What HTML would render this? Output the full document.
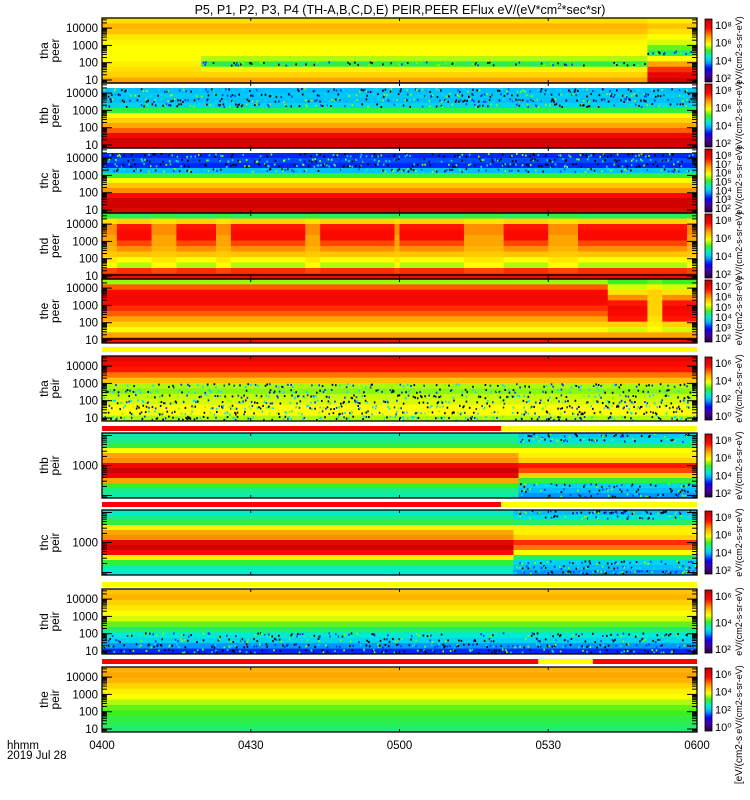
<!DOCTYPE html>
<html><head><meta charset="utf-8"><title>THEMIS ESA spectrograms</title>
<style>
html,body{margin:0;padding:0;background:#fff;}
svg{display:block;font-family:"Liberation Sans","DejaVu Sans",sans-serif;}
</style></head>
<body>
<svg id="chart" width="750" height="800" viewBox="0 0 750 800" xmlns="http://www.w3.org/2000/svg">
<text x="400" y="14" font-size="12.5" text-anchor="middle" fill="#000">P5, P1, P2, P3, P4 (TH-A,B,C,D,E) PEIR,PEER EFlux eV/(eV*cm<tspan font-size="8" dy="-5">2</tspan><tspan dy="5">*sec*sr)</tspan></text>
<g id="cells"></g>
<g id="bars"></g>
<g id="axes"></g>
<g id="cbars"></g>
<text x="7" y="749" font-size="11.5">hhmm</text>
<text x="7" y="759" font-size="11.5">2019 Jul 28</text>
</svg>
<script>
// ---- data ----
const timeTicks = [0, 30, 60, 90, 120];
const timeTickLabels = ["0400", "0430", "0500", "0530", "0600"];
const panelNames = ["tha peer","thb peer","thc peer","thd peer","the peer","tha peir","thb peir","thc peir","thd peir","the peir"];
const panelTops = [18, 83, 148, 213, 279, 356, 433, 510, 589, 667];
const panelBottoms = [83, 148, 213, 279, 343, 421, 498, 575, 654, 732];
const energyTicks = [10, 100, 1000, 10000];

// profiles: normalized log flux per energy row (top=high energy → bottom=low energy); -1 = no data
const thaPeerProfiles = [
  [0.64,0.7,0.68,0.63,0.61,0.6,0.6,0.6,0.62,0.64,0.66,0.72],
  [0.64,0.7,0.68,0.63,0.61,0.6,0.6,0.56,0.48,0.62,0.66,0.72],
  [0.62,0.68,0.64,0.6,0.58,0.52,0.46,0.6,0.72,0.82,0.9,0.95]
];
const thaPeerRegimes = [[0,20,0],[20,110,1],[110,120,2]];
const thbPeerProfiles = [
  [-1,0.32,0.34,0.32,0.36,0.48,0.6,0.66,0.72,0.78,0.88,0.95,0.94]
];
const thbPeerRegimes = [[0,120,0]];
const thcPeerProfiles = [
  [-1,0.24,0.26,0.24,0.32,0.48,0.6,0.68,0.74,0.86,0.95,0.95,0.92]
];
const thcPeerRegimes = [[0,120,0]];
const thdPeerProfiles = [
  [0.46,0.66,0.84,0.86,0.86,0.8,0.74,0.68,0.6,0.56,0.82,0.86],
  [0.48,0.64,0.74,0.74,0.72,0.72,0.7,0.67,0.63,0.6,0.8,0.86]
];
const thdPeerRegimes = [[0,3,1],[3,10,0],[10,15,1],[15,23,0],[23,26,1],[26,41,0],[41,44,1],[44,59,0],[59,60,1],[60,73,0],[73,81,1],[81,90,0],[90,96,1],[96,118,0],[118,120,1]];
const thePeerProfiles = [
  [0.55,0.78,0.86,0.88,0.86,0.82,0.78,0.72,0.66,0.6,0.72,0.86],
  [0.5,0.58,0.64,0.74,0.84,0.88,0.86,0.84,0.66,0.58,0.72,0.86],
  [0.52,0.62,0.66,0.66,0.66,0.66,0.66,0.64,0.62,0.6,0.72,0.86]
];
const thePeerRegimes = [[0,102,0],[102,110,1],[110,113,2],[113,120,1]];
const thaPeirProfiles = [
  [0.9,0.86,0.84,0.76,0.68,0.56,0.54,0.57,0.58,0.6,0.6,0.56]
];
const thaPeirRegimes = [[0,120,0]];
const thbPeirProfiles = [
  [0.42,0.44,0.48,0.6,0.72,0.74,0.88,0.96,0.9,0.72,0.5,0.44,0.42],
  [0.34,0.38,0.46,0.6,0.62,0.66,0.84,0.8,0.66,0.48,0.36,0.32,0.3]
];
const thbPeirRegimes = [[0,84,0],[84,120,1]];
const thcPeirProfiles = [
  [0.4,0.44,0.48,0.62,0.72,0.74,0.9,0.96,0.86,0.62,0.48,0.42,0.4],
  [0.32,0.38,0.46,0.62,0.62,0.66,0.82,0.76,0.6,0.46,0.36,0.32,0.3]
];
const thcPeirRegimes = [[0,83,0],[83,120,1]];
const thdPeirProfiles = [
  [0.68,0.7,0.66,0.63,0.6,0.58,0.52,0.46,0.4,0.36,0.3,0.24]
];
const thdPeirRegimes = [[0,120,0]];
const thePeirProfiles = [
  [0.7,0.72,0.7,0.66,0.62,0.6,0.56,0.52,0.5,0.48,0.47,0.45]
];
const thePeirRegimes = [[0,120,0]];
const speckleLevel = [0.5,0.4,0.36,0,0,0.6,0.39,0.39,0.42,0];

// status bar segments [startMin, endMin, color]
const barY = [347, 426, 502, 582, 659];
const barSegs = [
  [[0,120,"#ffff00"]],
  [[0,80.5,"#ff0000"],[80.5,120,"#ffff00"]],
  [[0,80.5,"#ff0000"],[80.5,120,"#ffff00"]],
  [[0,120,"#ffff00"]],
  [[0,88,"#ff0000"],[88,99,"#ffff00"],[99,120,"#ff0000"]]
];
const cbarLabels = [
  ["10⁸","10⁶","10⁴","10²"],["10⁸","10⁶","10⁴","10²"],["10⁸","10⁷","10⁶","10⁵","10⁴","10³","10²"],
  ["10⁸","10⁶","10⁴","10²"],["10⁷","10⁶","10⁵","10⁴","10³","10²"],["10⁶","10⁴","10²","10⁰"],
  ["10⁸","10⁶","10⁴","10²"],["10⁸","10⁶","10⁴","10²"],["10⁶","10⁴","10²"],["10⁶","10⁴","10²","10⁰"]
];

const allProfiles = [thaPeerProfiles,thbPeerProfiles,thcPeerProfiles,thdPeerProfiles,thePeerProfiles,thaPeirProfiles,thbPeirProfiles,thcPeirProfiles,thdPeirProfiles,thePeirProfiles];
const allRegimes = [thaPeerRegimes,thbPeerRegimes,thcPeerRegimes,thdPeerRegimes,thePeerRegimes,thaPeirRegimes,thbPeirRegimes,thcPeirRegimes,thdPeirRegimes,thePeirRegimes];

// ---- rendering ----
const NS = "http://www.w3.org/2000/svg";
const X0 = 102, X1 = 697;
function xScale(t){ return X0 + (t/120)*(X1-X0); }
function mk(tag, attrs, parent){ const e=document.createElementNS(NS,tag); for(const k in attrs) e.setAttribute(k,attrs[k]); parent.appendChild(e); return e; }
const stops=[[0,[40,0,60]],[0.12,[70,0,170]],[0.22,[0,0,255]],[0.32,[0,190,255]],[0.4,[0,235,210]],[0.5,[60,240,30]],[0.6,[255,255,0]],[0.72,[255,165,0]],[0.85,[255,10,0]],[1,[185,0,0]]];
function cmap(v){
  v=Math.max(0,Math.min(1,v));
  for(let i=1;i<stops.length;i++){ if(v<=stops[i][0]){ const a=stops[i-1],b=stops[i]; const f=(v-a[0])/(b[0]-a[0]);
    const c=a[1].map((q,j)=>Math.round(q+(b[1][j]-q)*f)); return `rgb(${c[0]},${c[1]},${c[2]})`; } }
  return "rgb(185,0,0)";
}
function hash(a,b,c){ let h=(a*374761393+b*668265263+c*2147483647)|0; h=(h^(h>>>13))*1274126177|0; return ((h^(h>>>16))>>>0)/4294967296; }

const cells=document.getElementById('cells');
for(let p=0;p<10;p++){
  const top=panelTops[p], bot=panelBottoms[p];
  const g=mk('g',{},cells);
  
  
  for(const reg of allRegimes[p]){
    const prof=allProfiles[p][reg[2]];
    const nr=prof.length, rh=(bot-top)/nr;
    const x0=xScale(reg[0]), x1=xScale(reg[1]);
    for(let r=0;r<nr;r++){
      const v=prof[r];
      const rect=mk('rect',{x:x0.toFixed(2),y:(top+r*rh).toFixed(2),width:(x1-x0+0.3).toFixed(2),height:(rh+0.3).toFixed(2),fill:v<0?"#fff":cmap(v)},g);
      
      
    }
    const sl=speckleLevel[p];
    if(sl>0){
      for(let r=0;r<nr;r++){
        const v=prof[r]; if(v<0||v>sl) continue;
        for(let t=Math.floor(reg[0]*2);t<reg[1]*2;t++){
          for(let k=0;k<3;k++){
            const h=hash(p,t*7+k,r);
            if(h<0.2){
              const col = h<0.07?"#000":(h<0.11?"#0030ff":(h<0.16?"#00e0ff":"#80ff00"));
              mk('rect',{x:(xScale(t/2)+k*0.8).toFixed(1),y:(top+r*rh+hash(r,t,k)*(rh-2)).toFixed(1),width:1.6,height:2,fill:col},g);
            }
          }
        }
      }
    }
  }
}
// contour lines at bottom of thd/the peer
for(const p of [3,4]){
  const yb=panelBottoms[p]-4;
  const ln=mk('path',{d:`M${X0} ${yb} L${X1} ${yb}`,stroke:"#000","stroke-width":1.5,fill:"none"},cells);
  
  
}

// status bars
const bars=document.getElementById('bars');
barY.forEach((y,i)=>{
  for(const s of barSegs[i]){
    const r=mk('rect',{x:xScale(s[0]),y:y,width:xScale(s[1])-xScale(s[0]),height:5,fill:s[2]},bars);
    
    
  }
});

// axes
const axes=document.getElementById('axes');
for(let p=0;p<10;p++){
  const top=panelTops[p], bot=panelBottoms[p];
  const box=mk('rect',{x:X0,y:top,width:X1-X0,height:bot-top,fill:"none",stroke:"#000","stroke-width":1.3},axes);
  
  
  const [sc,ins]=panelNames[p].split(' ');
  const cy=(top+bot)/2;
  const lab=mk('text',{x:0,y:0,"font-size":12,"text-anchor":"middle",transform:`translate(50,${cy}) rotate(-90)`},axes);
  
  
  lab.innerHTML=`<tspan x="0" dy="-2">${sc}</tspan><tspan x="0" dy="11">${ins}</tspan>`;
  const narrow=(p===6||p===7);
  const dec=narrow?30:17.3;
  const y10=narrow?(cy+dec*2):(bot-3);
  const ey=e=>y10-(Math.log10(e)-1)*dec;
  for(let d=0;d<5;d++){
    for(let m=1;m<10;m++){
      const e=Math.pow(10,d)*m; const y=ey(e);
      if(y<top+1||y>bot-1) continue;
      const L=m===1?10:5;
      mk('line',{x1:X0,x2:X0+L,y1:y,y2:y,stroke:"#000","stroke-width":1},axes);
      mk('line',{x1:X1-L,x2:X1,y1:y,y2:y,stroke:"#000","stroke-width":1},axes);
    }
  }
  for(const e of energyTicks){
    if(narrow && e!==1000) continue;
    const y=ey(e); if(y<top-2||y>bot+2) continue;
    const t=mk('text',{x:98,y:y+4,"font-size":11.5,"text-anchor":"end"},axes);
    
    
    t.textContent=String(e);
  }
  for(const tt of timeTicks){
    mk('line',{x1:xScale(tt),x2:xScale(tt),y1:bot,y2:bot-3,stroke:"#000"},axes);
    mk('line',{x1:xScale(tt),x2:xScale(tt),y1:top,y2:top+3,stroke:"#000"},axes);
  }
}
timeTicks.forEach((tt,i)=>{
  const t=mk('text',{x:xScale(tt),y:749,"font-size":11.5,"text-anchor":"middle"},axes);
  
  
  t.textContent=timeTickLabels[i];
});

// colorbars
const cb=document.getElementById('cbars');
const defs=mk('defs',{},cb);
const grad=mk('linearGradient',{id:"cg",x1:0,y1:1,x2:0,y2:0},defs);
for(let i=0;i<=20;i++) mk('stop',{offset:i/20,"stop-color":cmap(i/20)},grad);
for(let p=0;p<10;p++){
  const top=panelTops[p]+1, bot=panelBottoms[p]-1;
  const r=mk('rect',{x:705,y:top,width:7,height:bot-top,fill:"url(#cg)",stroke:"#000","stroke-width":0.8},cb);
  
  
  const labs=cbarLabels[p];
  labs.forEach((l,i)=>{
    const y=top+6+i*((bot-top-10)/Math.max(1,labs.length-1));
    const t=mk('text',{x:715,y:y+4,"font-size":11},cb);
    
    
    t.textContent=labs[i];
  });
  const u=mk('text',{x:0,y:0,"font-size":9,"text-anchor":"middle",transform:`translate(742,${(top+bot)/2}) rotate(-90)`},cb);
  
  
  u.textContent="eV/(cm2-s-sr-eV)";
}
const ul=mk('text',{x:0,y:0,"font-size":10,"text-anchor":"middle",transform:`translate(742,760) rotate(-90)`},cb);


ul.textContent="[eV/(cm2-s";
</script>
</body></html>
